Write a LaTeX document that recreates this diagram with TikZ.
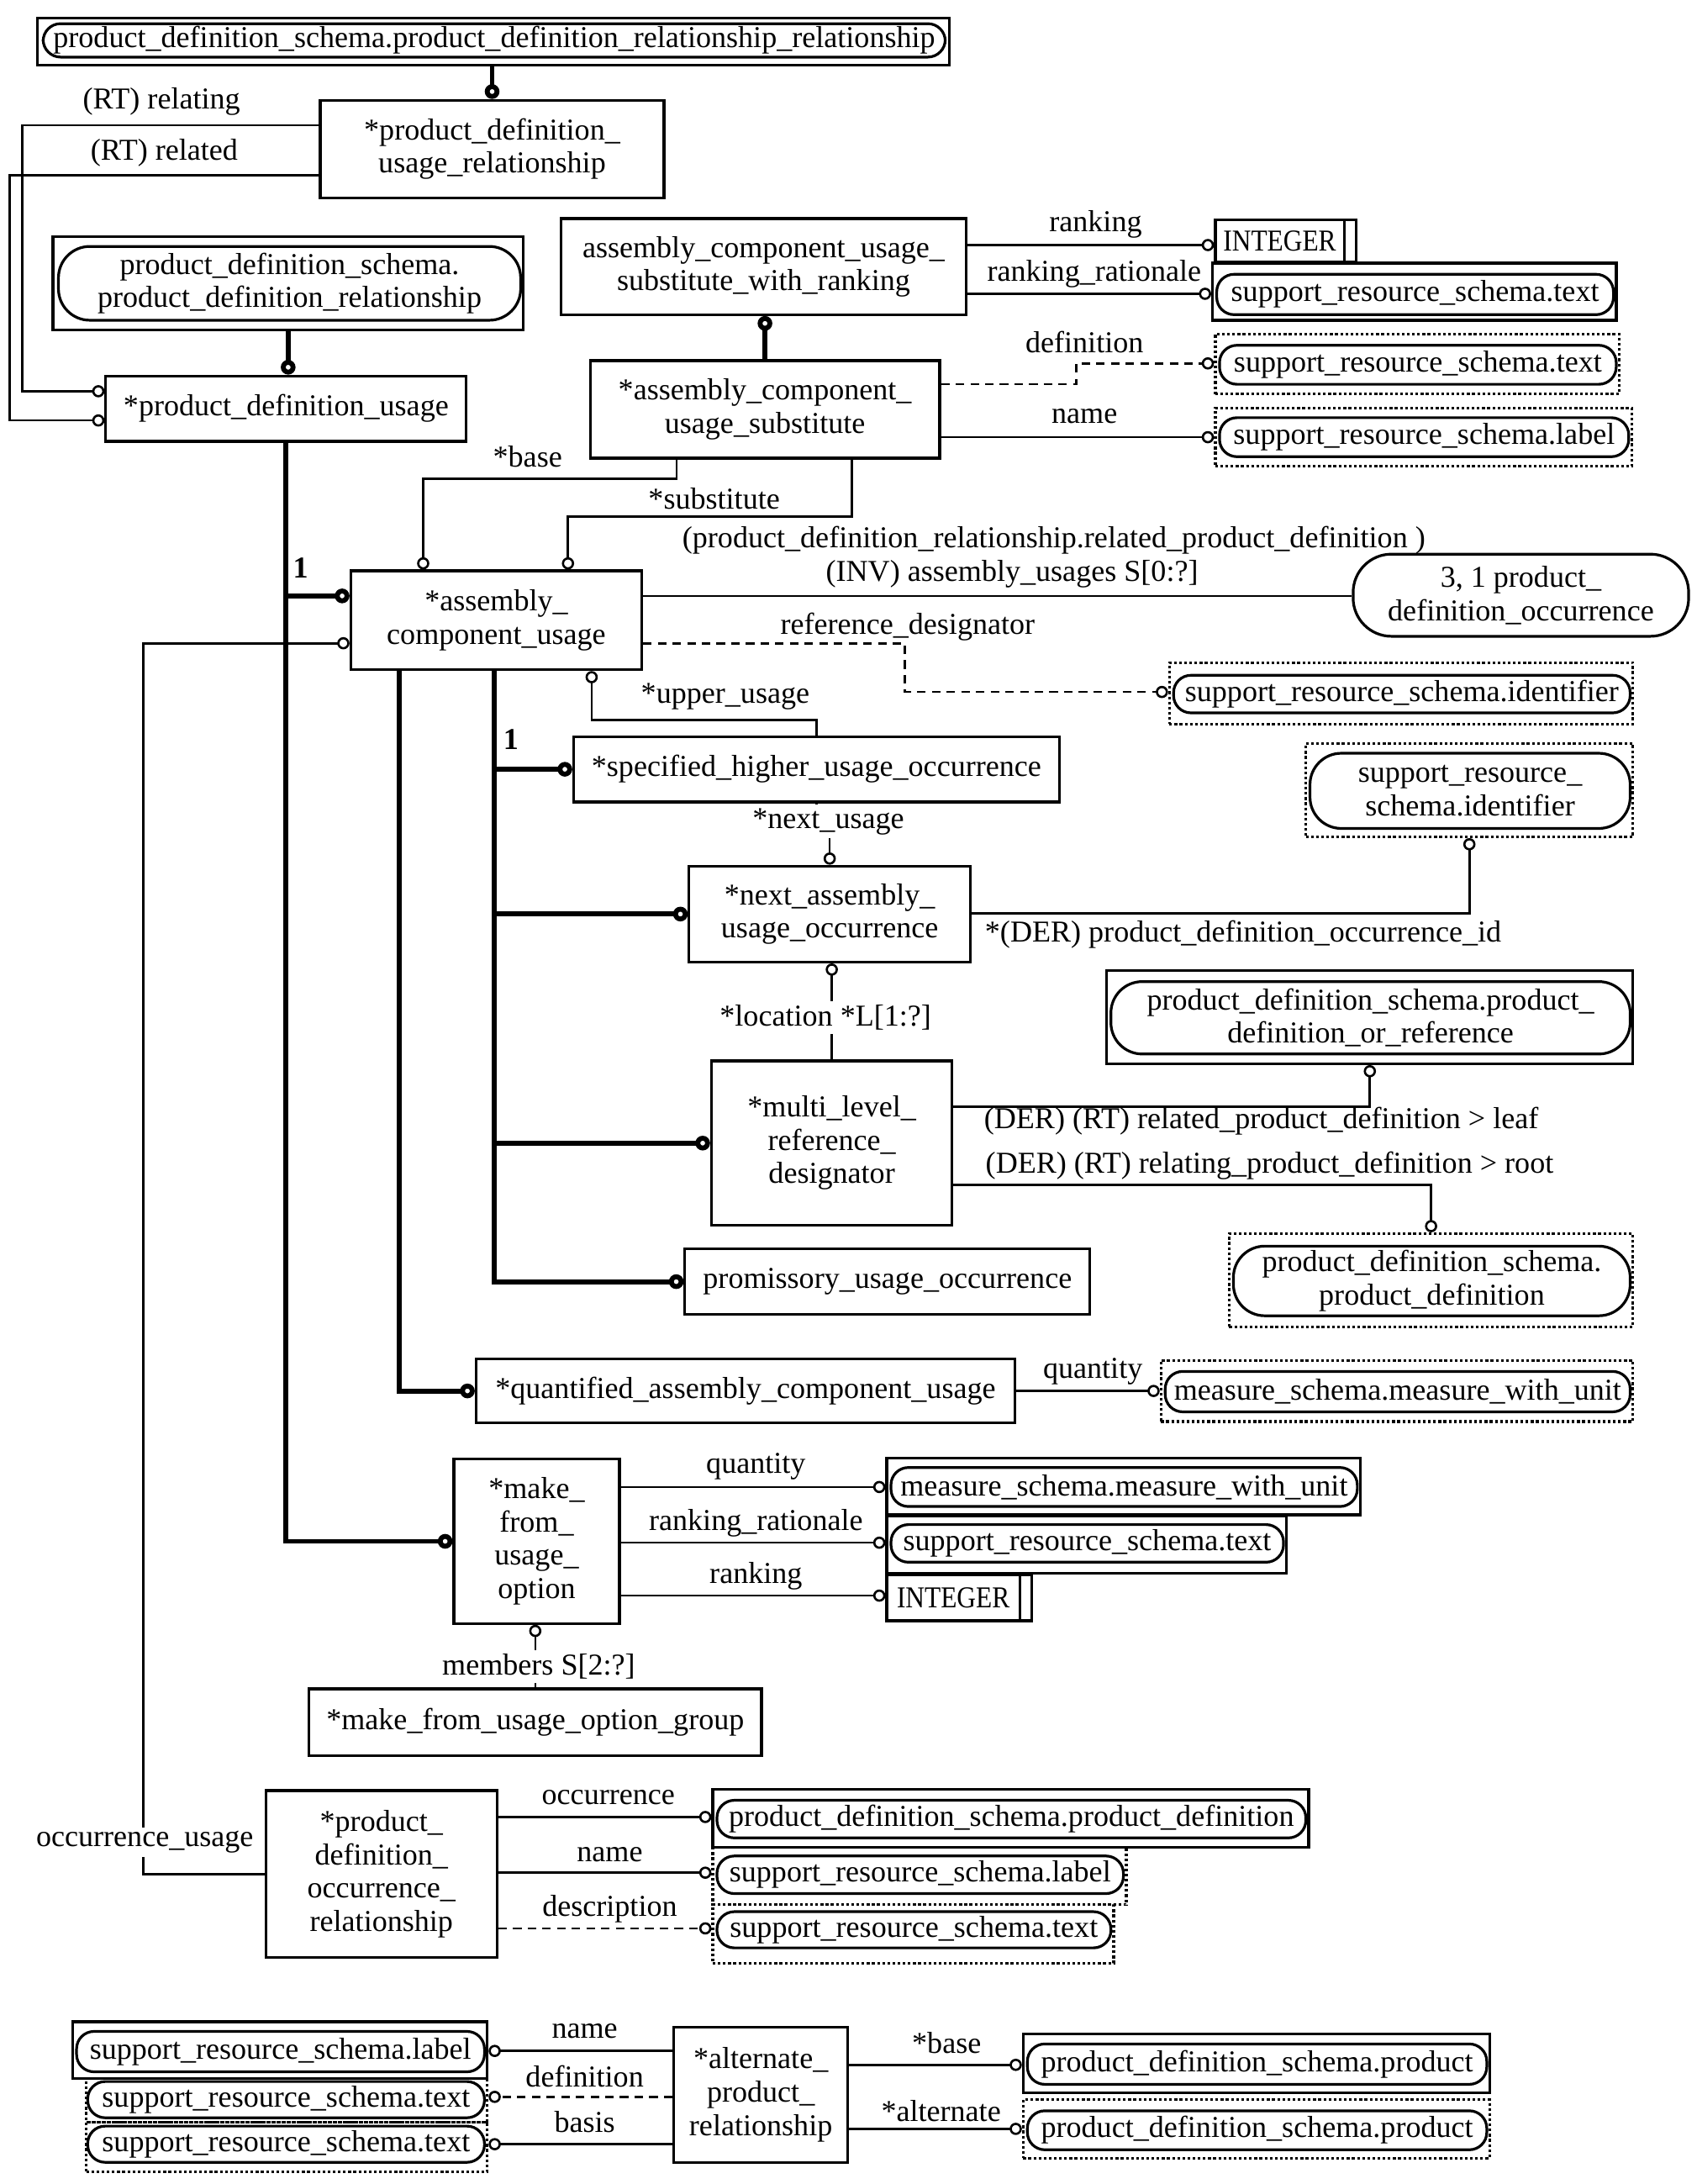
\documentclass[tikz,border=0pt]{standalone}
\usepackage{fontspec}
\setmainfont{Liberation Serif}
\usetikzlibrary{arrows.meta}

\tikzset{
  spanbox/.style n args={4}{minimum width={(#3-#1)*0.02cm}, minimum height={(#4-#2)*0.02cm},
    at={({(#1+#3)/2},{(#2+#4)/2})}},
  ent/.style={draw, line width=1.1pt, inner sep=0pt, align=center},
  usedbox/.style={draw, line width=1.1pt, inner sep=0pt},
  refbox/.style={usedbox, densely dotted},
  typ/.style={draw, line width=1.1pt, inner sep=0pt, align=center, rounded corners=0.25cm},
  typtwo/.style={typ, rounded corners=0.45cm},
  simple/.style={ent, path picture={\draw[line width=1.1pt] ([xshift=-0.17cm]path picture bounding box.north east) -- ([xshift=-0.17cm]path picture bounding box.south east);}},
  attr/.style={line width=0.9pt, -{Circle[open, length=5pt, width=5pt]}},
  opt/.style={attr, dash pattern=on 3.5pt off 2.5pt},
  sub/.style={line width=2pt, -{Circle[open, length=6pt, width=6pt]}},
  lbl/.style={inner sep=0pt},
  cut/.style={lbl, fill=white, inner sep=1.5pt},
}

\begin{document}
\begin{tikzpicture}[x=0.02cm, y=-0.02cm, font=\fontsize{12.4}{13.6}\selectfont]
\useasboundingbox (0,0) rectangle (1219,1568.6);

% entities
\node[ent, spanbox={230}{72}{477}{142}] (pdur) {*product\_definition\_\\usage\_relationship};
\node[ent, spanbox={76}{270}{335}{317}] (pdu) {*product\_definition\_usage};
\node[ent, spanbox={403}{157}{694}{226}] (acuswr) {assembly\_component\_usage\_\\substitute\_with\_ranking};
\node[ent, spanbox={424}{259}{675}{329}] (acus) {*assembly\_component\_\\usage\_substitute};
\node[ent, spanbox={252}{410}{461}{481}] (acu) {*assembly\_\\component\_usage};
\node[ent, spanbox={412}{529}{761}{576}] (shuo) {*specified\_higher\_usage\_occurrence};
\node[ent, spanbox={495}{622}{697}{691}] (nauo) {*next\_assembly\_\\usage\_occurrence};
\node[ent, spanbox={511}{762}{684}{880}] (mlrd) {*multi\_level\_\\reference\_\\designator};
\node[ent, spanbox={492}{897}{783}{944}] (puo) {promissory\_usage\_occurrence};
\node[ent, spanbox={342}{976}{729}{1022}] (qacu) {*quantified\_assembly\_component\_usage};
\node[ent, spanbox={326}{1048}{445}{1166}] (mfuo) {*make\_\\from\_\\usage\_\\option};
\node[ent, spanbox={222}{1213}{547}{1261}] (mfuog) {*make\_from\_usage\_option\_group};
\node[ent, spanbox={191}{1286}{357}{1406}] (pdorl) {*product\_\\definition\_\\occurrence\_\\relationship};
\node[ent, spanbox={484}{1456}{609}{1553}] (apr) {*alternate\_\\product\_\\relationship};

% types from other schemas
\node[usedbox, spanbox={27}{13}{682}{47}] (pdrr) {};
\node[typ, spanbox={31}{17}{679}{41}] (pdrrin) {product\_definition\_schema.product\_definition\_relationship\_relationship};
\node[usedbox, spanbox={38}{170}{376}{237}] (pdr) {};
\node[typtwo, spanbox={42}{177}{374}{230}] (pdrin) {product\_definition\_schema.\\product\_definition\_relationship};
\node[simple, spanbox={873}{158}{974}{188}] (intone) {\scalebox{0.87}[1]{INTEGER}\hspace{0.17cm}};
\node[usedbox, spanbox={871}{189}{1161}{230}] (txtone) {};
\node[typ, spanbox={874}{197}{1159}{226}] (txtonein) {support\_resource\_schema.text};
\node[refbox, spanbox={873}{240}{1163}{283}] (txttwo) {};
\node[typ, spanbox={876}{248}{1161}{276}] (txttwoin) {support\_resource\_schema.text};
\node[refbox, spanbox={873}{293}{1172}{335}] (labone) {};
\node[typ, spanbox={876}{300}{1170}{328}] (labonein) {support\_resource\_schema.label};
\node[typ, rounded corners=0.55cm, spanbox={972}{398}{1213}{457}] (pdo) {3, 1 product\_\\definition\_occurrence};
\node[refbox, spanbox={840}{476}{1173}{520}] (idone) {};
\node[typ, spanbox={843}{485}{1171}{512}] (idonein) {support\_resource\_schema.identifier};
\node[refbox, spanbox={938}{534}{1173}{601}] (idtwo) {};
\node[typtwo, spanbox={941}{541}{1171}{595}] (idtwoin) {support\_resource\_\\schema.identifier};
\node[usedbox, spanbox={795}{697}{1173}{764}] (pdor) {};
\node[typtwo, spanbox={798}{705}{1171}{757}] (pdorin) {product\_definition\_schema.product\_\\definition\_or\_reference};
\node[refbox, spanbox={883}{886}{1173}{953}] (pdone) {};
\node[typtwo, spanbox={886}{895}{1171}{945}] (pdonein) {product\_definition\_schema.\\product\_definition};
\node[refbox, spanbox={834}{977}{1173}{1021}] (mwuone) {};
\node[typ, spanbox={837}{985}{1171}{1014}] (mwuonein) {measure\_schema.measure\_with\_unit};
\node[usedbox, spanbox={637}{1047}{977}{1088}] (mwutwo) {};
\node[typ, spanbox={640}{1054}{975}{1082}] (mwutwoin) {measure\_schema.measure\_with\_unit};
\node[usedbox, spanbox={637}{1089}{924}{1130}] (txtthree) {};
\node[typ, spanbox={640}{1095}{922}{1122}] (txtthreein) {support\_resource\_schema.text};
\node[simple, spanbox={637}{1131}{741}{1164}] (inttwo) {\scalebox{0.87}[1]{INTEGER}\hspace{0.17cm}};
\node[usedbox, spanbox={512}{1285}{940}{1327}] (pdtwo) {};
\node[typ, spanbox={515}{1293}{938}{1320}] (pdtwoin) {product\_definition\_schema.product\_definition};
\node[refbox, spanbox={512}{1327}{809}{1368}] (labtwo) {};
\node[typ, spanbox={515}{1333}{807}{1360}] (labtwoin) {support\_resource\_schema.label};
\node[refbox, spanbox={512}{1368}{800}{1410}] (txtfour) {};
\node[typ, spanbox={515}{1373}{798}{1399}] (txtfourin) {support\_resource\_schema.text};
\node[usedbox, spanbox={52}{1452}{350}{1493}] (labthree) {};
\node[typ, spanbox={55}{1459}{348}{1488}] (labthreein) {support\_resource\_schema.label};
\node[refbox, spanbox={62}{1493}{350}{1524}] (txtfive) {};
\node[typ, spanbox={63}{1495}{348}{1521}] (txtfivein) {support\_resource\_schema.text};
\node[refbox, spanbox={62}{1524}{350}{1560}] (txtsix) {};
\node[typ, spanbox={63}{1527}{348}{1553}] (txtsixin) {support\_resource\_schema.text};
\node[usedbox, spanbox={735}{1461}{1070}{1503}] (prdone) {};
\node[typ, spanbox={738}{1468}{1068}{1497}] (prdonein) {product\_definition\_schema.product};
\node[refbox, spanbox={735}{1508}{1070}{1550}] (prdtwo) {};
\node[typ, spanbox={738}{1516}{1068}{1544}] (prdtwoin) {product\_definition\_schema.product};

% subtype lines
\draw[sub] (pdrr.south -| pdur.north) -- (pdur.north);
\draw[sub] (pdr.south) -- (pdr.south |- pdu.north);
\draw[sub] (acus.north) -- (acus.north |- acuswr.south);
\draw[sub] (pdu.south) |- (mfuo);
\draw[sub] (pdu.south |- 0,428) -- (acu.west |- 0,428);
\draw[sub] (acu.south -| 287,0) |- (qacu.west);
\foreach \n in {shuo,nauo,mlrd,puo}
\draw[sub] (acu.south -| 355,0) |- (\n.west);

% attributes
\draw[attr] (pdur.west |- 0,90) -| (16,281) -- (pdu.west |- 0,281);
\draw[attr] (pdur.west |- 0,126) -| (7,302) -- (pdu.west |- 0,302);
\draw[attr] (acuswr.east |- 0,176) -- (intone.west |- 0,176);
\draw[attr] (acuswr.east |- 0,211) -- (txtone.west |- 0,211);
\draw[opt] (acus.east |- 0,276) -| (773,261) -- (txttwo.west |- 0,261);
\draw[attr] (acus.east |- 0,314) -- (labone.west |- 0,314);
\draw[attr] (acus.south -| 486,0) |- (304,344) -- (acu.north -| 304,0);
\draw[attr] (acus.south -| 612,0) |- (408,371) -- (acu.north -| 408,0);
\draw[line width=0.9pt] (acu.east |- 0,428) -- (pdo.west |- 0,428);
\draw[opt] (acu.east |- 0,462) -| (650,497) -- (idone.west |- 0,497);
\draw[attr] (pdorl.west) -| (103,462) -- (acu.west |- 0,462);
\draw[attr] (shuo.north) |- (425,517) -- (acu.south -| 425,0);
\draw[attr] (shuo.south) -- (shuo.south |- 0,601) -| (nauo.north);
\draw[attr] (mlrd.north) -- (mlrd.north |- nauo.south);
\draw[attr] (nauo.east |- 0,656) -| (idtwo.south);
\draw[attr] (mlrd.east |- 0,795) -| (pdor.south);
\draw[attr] (mlrd.east |- 0,851) -| (pdone.north);
\draw[attr] (qacu.east) -- (mwuone.west |- qacu.east);
\draw[attr] (mfuo.east |- 0,1068) -- (mwutwo.west |- 0,1068);
\draw[attr] (mfuo.east |- 0,1108) -- (txtthree.west |- 0,1108);
\draw[attr] (mfuo.east |- 0,1146) -- (inttwo.west |- 0,1146);
\draw[attr] (mfuog.north) -- (mfuog.north |- mfuo.south);
\draw[attr] (pdorl.east |- 0,1305) -- (pdtwo.west |- 0,1305);
\draw[attr] (pdorl.east |- 0,1345) -- (labtwo.west |- 0,1345);
\draw[opt] (pdorl.east |- 0,1385) -- (txtfour.west |- 0,1385);
\draw[attr] (apr.west |- 0,1473) -- (labthree.east |- 0,1473);
\draw[opt] (apr.west |- 0,1506) -- (txtfive.east |- 0,1506);
\draw[attr] (apr.west |- 0,1540) -- (txtsix.east |- 0,1540);
\draw[attr] (apr.east |- 0,1483) -- (prdone.west |- 0,1483);
\draw[attr] (apr.east |- 0,1529) -- (prdtwo.west |- 0,1529);

% labels
\node[lbl] (lrelating) at (116,73) {(RT) relating};
\node[lbl] (lrelated) at (118,110) {(RT) related};
\node[lbl] (lrankone) at (787,161) {ranking};
\node[lbl] (lratone) at (786,197) {ranking\_rationale};
\node[lbl] (ldefone) at (779,246) {definition};
\node[lbl] (lnameone) at (779,299) {name};
\node[lbl] (lbaseone) at (379,328) {*base};
\node[lbl] (lsubst) at (513,358) {*substitute};
\node[lbl] (linvone) at (757,388) {(product\_definition\_relationship.related\_product\_definition )};
\node[lbl] (linvtwo) at (727,412) {(INV) assembly\_usages S[0:?]};
\node[lbl] (lrefdes) at (652,450) {reference\_designator};
\node[lbl] (lone) at (216,408) {\textbf{1}};
\node[lbl] (lupper) at (521,500) {*upper\_usage};
\node[lbl] (ltwo) at (367,531) {\textbf{1}};
\node[cut] (lnext) at (595,590) {*next\_usage};
\node[lbl] (lder) at (893,671) {*(DER) product\_definition\_occurrence\_id};
\node[cut] (lloc) at (593,731) {*location *L[1:?]};
\node[lbl] (lleaf) at (906,805) {(DER) (RT) related\_product\_definition > leaf};
\node[lbl] (lroot) at (912,837) {(DER) (RT) relating\_product\_definition > root};
\node[lbl] (lqtyone) at (785,985) {quantity};
\node[lbl] (lqtytwo) at (543,1053) {quantity};
\node[lbl] (lrattwo) at (543,1094) {ranking\_rationale};
\node[lbl] (lranktwo) at (543,1132) {ranking};
\node[cut] (lmembers) at (387,1197) {members S[2:?]};
\node[cut] (loccu) at (104,1323) {occurrence\_usage};
\node[lbl] (locc) at (437,1291) {occurrence};
\node[lbl] (lnametwo) at (438,1332) {name};
\node[lbl] (ldesc) at (438,1371) {description};
\node[lbl] (lnamethree) at (420,1459) {name};
\node[lbl] (ldeftwo) at (420,1491) {definition};
\node[lbl] (lbasis) at (420,1524) {basis};
\node[lbl] (lbasetwo) at (680,1467) {*base};
\node[lbl] (lalt) at (676,1516) {*alternate};
\end{tikzpicture}
\end{document}
